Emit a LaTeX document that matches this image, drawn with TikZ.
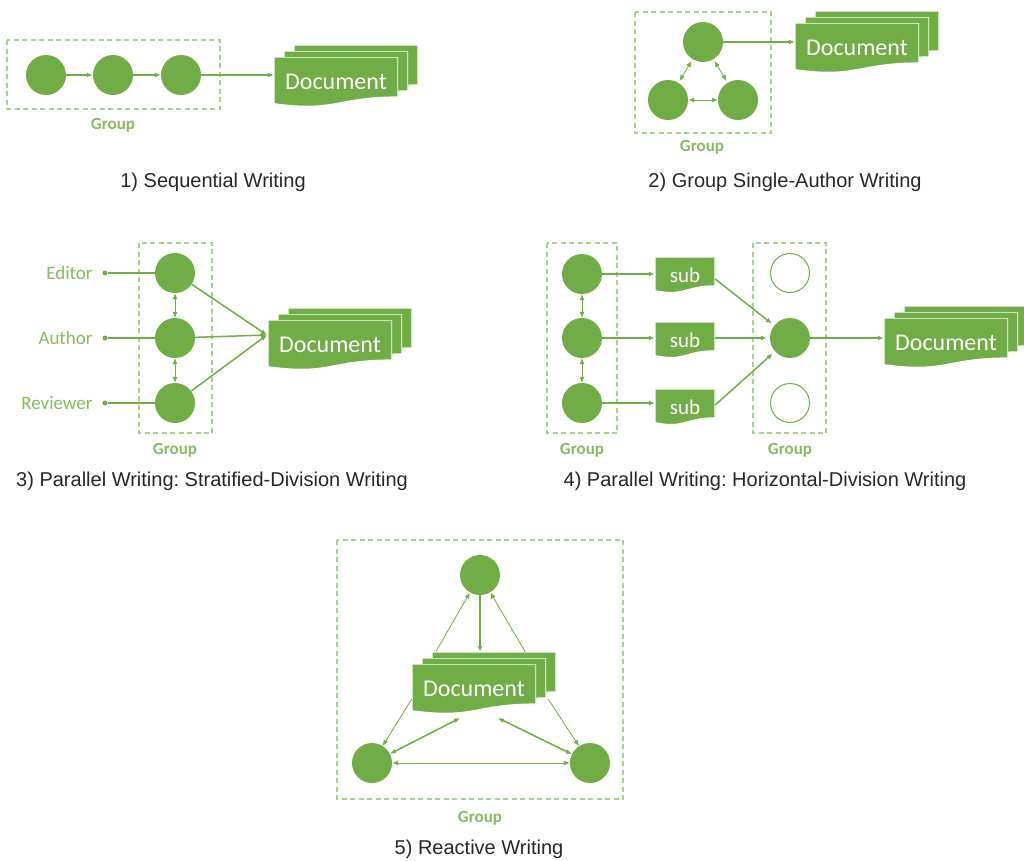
\documentclass[tikz,border=0pt]{standalone}
\usepackage{fontspec}
\setmainfont{Liberation Sans}
\newfontfamily\calibri{Carlito}
\usetikzlibrary{arrows.meta,calc}
\definecolor{docgreen}{HTML}{70AD47}
\definecolor{boxgreen}{HTML}{A9D18E}
\definecolor{labelgreen}{HTML}{84BC5F}
\definecolor{captiongray}{HTML}{262626}
\frenchspacing

\begin{document}
\begin{tikzpicture}[x=1pt, y=-1pt, >={Latex[length=6pt, width=5pt]},
    member/.style={circle, fill=docgreen, minimum size=40pt, inner sep=0pt},
    spare/.style={circle, draw=docgreen, line width=1pt, minimum size=39pt, inner sep=0pt},
    port/.style={circle, fill=docgreen, minimum size=5pt, inner sep=0pt},
    doc/.style={minimum width=124pt, minimum height=50pt, inner sep=0pt, text=white,
        font=\calibri\fontsize{24}{28}\selectfont,
        path picture={\filldraw[fill=docgreen, draw=white, line width=1.2pt]
            (path picture bounding box.north west) -- (path picture bounding box.north east)
            -- ($(path picture bounding box.north east)!0.8!(path picture bounding box.south east)$)
            .. controls ($(path picture bounding box.north)!0.8!(path picture bounding box.south)$)
            and ($(path picture bounding box.north)!1.107!(path picture bounding box.south)$)
            .. ($(path picture bounding box.north west)!0.934!(path picture bounding box.south west)$)
            -- cycle;}},
    subdoc/.style={doc, minimum width=60pt, minimum height=36pt, font=\calibri\fontsize{21}{24}\selectfont},
    link/.style={draw=docgreen, line width=1.5pt},
    thinlink/.style={draw=docgreen, line width=0.8pt},
    group/.style={draw=boxgreen, line width=1.5pt, dash pattern=on 5pt off 3.5pt},
    grouplabel/.style={text=labelgreen, font=\calibri\bfseries\fontsize{17}{20}\selectfont},
    role/.style={text=labelgreen, anchor=east, font=\calibri\fontsize{19}{22}\selectfont},
    caption/.style={text=captiongray, font=\fontsize{20}{24}\selectfont}]
    \useasboundingbox (0,0) rectangle (1024,860);

    % 1) Sequential Writing
    \draw[group] (7,40) rectangle (220,109);
    \node[member] (p1a) at (46,75) {};
    \node[member] (p1b) at (113,75) {};
    \node[member] (p1c) at (181,75) {};
    \node[doc] (p1doc3) at (356,70) {};
    \node[doc] (p1doc2) at (346,76) {};
    \node[doc] (p1doc) at (336,82) {Document};
    \draw[link,->] (p1a) -- (p1b);
    \draw[link,->] (p1b) -- (p1c);
    \draw[link,->] (p1c) -- (p1c -| p1doc.west);
    \node[grouplabel] (p1g) at (113,125) {Group};
    \node[caption] (p1t) at (213,182) {1) Sequential Writing};

    % 2) Group Single-Author Writing
    \draw[group] (635,12) rectangle (771,133);
    \node[member] (p2a) at (703,42) {};
    \node[member] (p2b) at (668,100) {};
    \node[member] (p2c) at (738,100) {};
    \node[doc] (p2doc3) at (877,36) {};
    \node[doc] (p2doc2) at (867,42) {};
    \node[doc] (p2doc) at (857,48) {Document};
    \draw[link,->] (p2a) -- (p2a -| p2doc.west);
    \draw[thinlink,<->,shorten >=2pt,shorten <=2pt] (p2a) -- (p2b);
    \draw[thinlink,<->,shorten >=2pt,shorten <=2pt] (p2a) -- (p2c);
    \draw[thinlink,<->] (p2b) -- (p2c);
    \node[grouplabel] (p2g) at (702,147) {Group};
    \node[caption] (p2t) at (785,182) {2) Group Single-Author Writing};

    % 3) Stratified-Division Writing
    \draw[group] (139,243) rectangle (212,433);
    \node[member] (p3e) at (175,273) {};
    \node[member] (p3a) at (175,338) {};
    \node[member] (p3r) at (175,403) {};
    \node[port] (p3ep) at (105,273) {};
    \node[port] (p3ap) at (105,338) {};
    \node[port] (p3rp) at (105,403) {};
    \node[role] (p3el) at (96,273) {Editor};
    \node[role] (p3al) at (96,338) {Author};
    \node[role] (p3rl) at (96,403) {Reviewer};
    \node[doc] (p3doc3) at (350,333) {};
    \node[doc] (p3doc2) at (340,339) {};
    \node[doc] (p3doc) at (330,345) {Document};
    \coordinate (p3in) at (267,335);
    \draw[link] (p3ep) -- (p3e);
    \draw[link] (p3ap) -- (p3a);
    \draw[link] (p3rp) -- (p3r);
    \draw[thinlink,<->] (p3e) -- (p3a);
    \draw[thinlink,<->] (p3a) -- (p3r);
    \draw[link,->] (p3e) -- (p3in);
    \draw[link,->] (p3a) -- (p3in);
    \draw[link,->] (p3r) -- (p3in);
    \node[grouplabel] (p3g) at (175,450) {Group};
    \node[caption] (p3t) at (212,481) {3) Parallel Writing: Stratified-Division Writing};

    % 4) Horizontal-Division Writing
    \draw[group] (547,243) rectangle (617,433);
    \draw[group] (753,243) rectangle (826,433);
    \node[member] (p4a) at (582,274) {};
    \node[member] (p4b) at (582,338) {};
    \node[member] (p4c) at (582,403) {};
    \node[subdoc] (p4sub1) at (685,275) {sub};
    \node[subdoc] (p4sub2) at (685,340) {sub};
    \node[subdoc] (p4sub3) at (685,407) {sub};
    \node[spare] (p4top) at (790,273) {};
    \node[member] (p4m) at (790,338) {};
    \node[spare] (p4bot) at (790,403) {};
    \node[doc] (p4doc3) at (966,331) {};
    \node[doc] (p4doc2) at (956,337) {};
    \node[doc] (p4doc) at (946,343) {Document};
    \draw[thinlink,<->] (p4a) -- (p4b);
    \draw[thinlink,<->] (p4b) -- (p4c);
    \draw[link,->] (p4a) -- (p4a -| p4sub1.west);
    \draw[link,->] (p4b) -- (p4b -| p4sub2.west);
    \draw[link,->] (p4c) -- (p4c -| p4sub3.west);
    \draw[link,->,shorten >=3pt] ([yshift=-4pt]p4sub1.east) -- (p4m);
    \draw[link,->,shorten >=3pt] (p4sub2.east |- p4m) -- (p4m);
    \draw[link,->,shorten >=3pt] ([yshift=2pt]p4sub3.east) -- (p4m);
    \draw[link,->] (p4m) -- (p4m -| p4doc.west);
    \node[grouplabel] (p4g1) at (582,450) {Group};
    \node[grouplabel] (p4g2) at (790,450) {Group};
    \node[caption] (p4t) at (765,481) {4) Parallel Writing: Horizontal-Division Writing};

    % 5) Reactive Writing
    \draw[group] (337,540) rectangle (623,799);
    \node[member] (p5top) at (480,575) {};
    \node[member] (p5left) at (372,763) {};
    \node[member] (p5right) at (590,763) {};
    \node[doc] (p5doc3) at (494,677) {};
    \node[doc] (p5doc2) at (484,683) {};
    \node[doc] (p5doc) at (474,689) {Document};
    \coordinate (p5l) at (460,718);
    \coordinate (p5r) at (498,718);
    \draw[link,->] (p5top) -- (p5top |- p5doc3.north);
    \draw[thinlink,->] ([xshift=4pt]p5doc3.north west) -- (p5top);
    \draw[thinlink,->] ([xshift=-31pt]p5doc3.north east) -- (p5top);
    \draw[thinlink,->] ([yshift=-10pt]p5doc.west) -- (p5left);
    \draw[thinlink,->] ([xshift=-8pt,yshift=-22pt]p5doc3.east) -- (p5right);
    \draw[link,<->] (p5left) -- (p5l);
    \draw[link,<->] (p5right) -- (p5r);
    \draw[thinlink,<->] (p5left) -- (p5right);
    \node[grouplabel] (p5g) at (480,818) {Group};
    \node[caption] (p5t) at (479,849) {5) Reactive Writing};
\end{tikzpicture}
\end{document}
